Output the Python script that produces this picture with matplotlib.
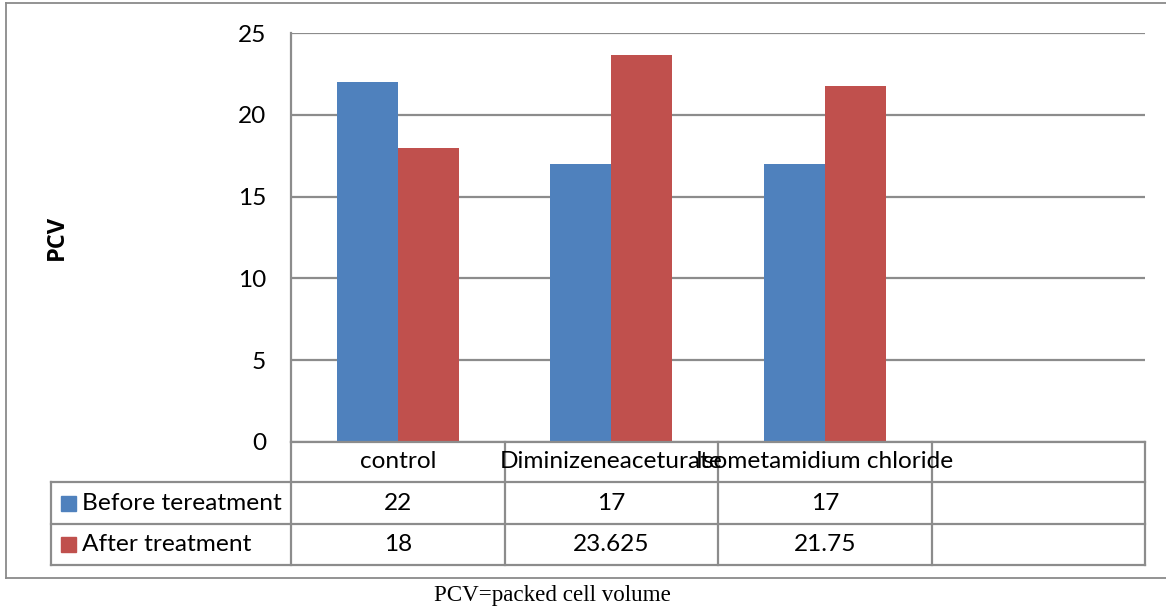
import matplotlib
matplotlib.use("Agg")
import matplotlib.pyplot as plt
from matplotlib.lines import Line2D
from matplotlib.patches import Rectangle
import numpy as np

# ---- data ----
categories = ["control", "Diminizeneaceturate", "Isometamidium chloride", ""]
series_names = ["Before tereatment", "After treatment"]
before = [22, 17, 17]
after = [18, 23.625, 21.75]
yticks = [0, 5, 10, 15, 20, 25]
y_label = "PCV"
caption = "PCV=packed cell volume"

colors = ["#4F81BD", "#C0504D"]
grid_c = "#8C8C8C"
FONT = "Lato"
FS = 17.6

W, H = 1166, 611
fig = plt.figure(figsize=(W / 100, H / 100), dpi=100)

def fx(x):
    return x / W

def fy(y):
    return 1 - y / H

# plot area in pixel coords
L, R, T, B = 291, 1145, 33, 442
ax = fig.add_axes([fx(L), fy(B), fx(R - L), (B - T) / H])

n = len(categories)
x = np.arange(n)
bw = 1 / 3.5
ax.bar(x[:len(before)] - bw / 2, before, width=bw, color=colors[0], zorder=3)
ax.bar(x[:len(after)] + bw / 2, after, width=bw, color=colors[1], zorder=3)
ax.set_xlim(-0.5, n - 0.5)
ax.set_ylim(0, 25)
ax.set_yticks(yticks)
ax.set_yticklabels([str(t) for t in yticks], fontfamily=FONT, fontsize=FS)
ax.set_xticks([])
ax.tick_params(axis="y", length=0, pad=18)
for s in ["top", "right", "bottom"]:
    ax.spines[s].set_visible(False)
ax.spines["left"].set_color(grid_c)
ax.spines["left"].set_linewidth(1.6)
ax.yaxis.grid(True, color=grid_c, linewidth=1.6, zorder=0)
ax.set_axisbelow(True)

fig.text(fx(57), fy(237.5), y_label, rotation=90, ha="center", va="center",
         fontfamily="Open Sans", fontsize=17, fontweight="bold")

# ---- data table ----
def data_to_px(xd):
    return ax.transData.transform((xd, 0))[0]

col_edges = [data_to_px(e) for e in np.arange(-0.5, n, 1.0)]
rows = [442, 482, 524, 565]
leg_left = 51
lw = 1.6

def hline(y, x0, x1):
    fig.add_artist(Line2D([fx(x0), fx(x1)], [fy(y), fy(y)], color=grid_c, lw=lw))

def vline(x0, y0, y1):
    fig.add_artist(Line2D([fx(x0), fx(x0)], [fy(y0), fy(y1)], color=grid_c, lw=lw))

hline(rows[0], col_edges[0], col_edges[-1])
for y in rows[1:]:
    hline(y, leg_left, col_edges[-1])
for xe in col_edges:
    vline(xe, rows[0], rows[-1])
vline(leg_left, rows[1], rows[-1])

# header labels
for i, c in enumerate(categories):
    cx = data_to_px(i)
    fig.text(fx(cx), fy((rows[0] + rows[1]) / 2), c, ha="center", va="center",
             fontfamily=FONT, fontsize=FS)

# series rows
vals = [before, after]
for r, (name, v, col) in enumerate(zip(series_names, vals, colors)):
    yc = (rows[r + 1] + rows[r + 2]) / 2
    fig.add_artist(Rectangle((fx(61), fy(yc + 7.5)), fx(15), 15 / H, color=col))
    fig.text(fx(82), fy(yc), name, ha="left", va="center",
             fontfamily=FONT, fontsize=FS)
    for i, val in enumerate(v):
        fig.text(fx(data_to_px(i)), fy(yc), f"{val:g}", ha="center", va="center",
                 fontfamily=FONT, fontsize=FS)

# outer border
bl = 1.3
bc = "#8A8A8A"
fig.add_artist(Line2D([fx(6), fx(W)], [fy(3), fy(3)], color=bc, lw=bl))
fig.add_artist(Line2D([fx(6), fx(W)], [fy(578), fy(578)], color=bc, lw=bl))
fig.add_artist(Line2D([fx(6), fx(6)], [fy(3), fy(578)], color=bc, lw=bl))

fig.text(fx(552), fy(596), caption, ha="center", va="center",
         fontfamily="Liberation Serif", fontsize=16.6)

fig.savefig("out.png", dpi=100)
